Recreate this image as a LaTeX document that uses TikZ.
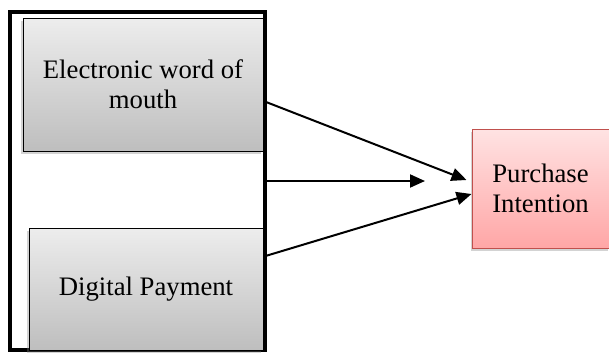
\documentclass[tikz,border=0pt]{standalone}
\usepackage{fontspec}
\setmainfont{Liberation Serif}
\usetikzlibrary{arrows.meta,shadows,calc}

\definecolor{boxtop}{HTML}{EDEDED}
\definecolor{boxbot}{HTML}{BEBEBE}
\definecolor{pinktop}{HTML}{FFE3E3}
\definecolor{pinkbot}{HTML}{FFA6A6}
\definecolor{pinkline}{HTML}{C0504D}

\begin{document}
\begin{tikzpicture}[x=1pt,y=-1pt,
  font=\fontsize{26.7}{30}\selectfont,
  varbox/.style={draw=black, line width=1pt, top color=boxtop, bottom color=boxbot,
    align=center, inner sep=0pt,
    drop shadow={shadow xshift=-2pt, shadow yshift=-3pt, opacity=0.35}},
  depbox/.style={draw=pinkline, line width=1pt, top color=pinktop, bottom color=pinkbot,
    align=center, inner sep=0pt,
    drop shadow={shadow xshift=-1pt, shadow yshift=-3pt, opacity=0.35}},
  link/.style={line width=2pt, -{Triangle[length=15pt,width=13pt]}}]
  \useasboundingbox (0,0) rectangle (609,354);

  % outer frame round the two variables
  \node[draw, line width=4pt, minimum width=255pt, minimum height=338pt,
    inner sep=0pt] (frame) at (137.5,181) {};

  % variables
  \node[varbox, minimum width=240pt, minimum height=133pt] (ewom) at (143,84.5)
    {Electronic word of\\mouth};
  \node[varbox, minimum width=234pt, minimum height=122pt] (payment) at (146,289)
    {Digital Payment};
  \node[depbox, minimum width=137pt, minimum height=119pt] (intention) at (540.5,188.5)
    {Purchase\\Intention};

  % arrows
  \coordinate (mid) at (425,181);
  \draw[link] ($(ewom.east)+(0,16.5)$) -- ($(intention.west)+(-5,-8.5)$);
  \draw[link] (frame.east) -- (mid);
  \draw[link] ($(payment.east)+(2,-33)$) -- ($(intention.west)+(0,5.5)$);
\end{tikzpicture}
\end{document}
